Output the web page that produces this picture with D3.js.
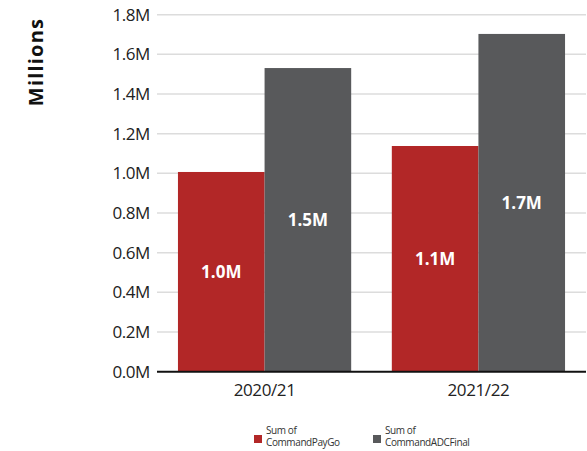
<!DOCTYPE html>
<html>
<head>
<meta charset="utf-8">
<script src="https://cdn.jsdelivr.net/npm/d3@7"></script>
<style>
  html, body { margin: 0; padding: 0; background: #fff; }
  svg { display: block; font-family: "Open Sans", "Noto Sans", sans-serif; }
</style>
</head>
<body>
<svg id="chart" width="587" height="451"></svg>
<script>
const categories = ["2020/21", "2021/22"];
const seriesNames = ["Sum of CommandPayGo", "Sum of CommandADCFinal"];
const legendLines = [["Sum of", "CommandPayGo"], ["Sum of", "CommandADCFinal"]];
const payGo = [1.007, 1.138];
const adcFinal = [1.531, 1.703];
const yTicks = [0, 0.2, 0.4, 0.6, 0.8, 1.0, 1.2, 1.4, 1.6, 1.8];
const colors = ["#B22727", "#58595B"];

const svg = d3.select("#chart");

const x0 = d3.scaleBand().domain(categories).range([157, 586]).paddingInner(0.19).paddingOuter(0.098);
const x1 = d3.scaleBand().domain([0, 1]).range([0, x0.bandwidth()]);
const y = d3.scaleLinear().domain([0, 1.8]).range([371.7, 14.7]);

// gridlines
svg.append("g")
  .selectAll("line").data(yTicks.filter(d => d > 0)).join("line")
  .attr("x1", 157).attr("x2", 586)
  .attr("y1", d => y(d)).attr("y2", d => y(d))
  .attr("stroke", "#dcdcdc").attr("stroke-width", 1.5);

// y axis labels
const yAxis = d3.axisLeft(y).tickValues(yTicks).tickSize(0).tickPadding(7)
  .tickFormat(d => d3.format(".1f")(d) + "M");
const gy = svg.append("g").attr("transform", "translate(157,0)").call(yAxis);
gy.select(".domain").remove();
gy.selectAll("text").attr("font-size", 17).attr("fill", "#222").attr("font-family", "Open Sans")
  .attr("letter-spacing", -0.4);

// bars
const data = categories.map((c, i) => ({ cat: c, vals: [payGo[i], adcFinal[i]] }));
const groups = svg.append("g").selectAll("g").data(data).join("g")
  .attr("transform", d => `translate(${x0(d.cat)},0)`);
groups.selectAll("rect").data(d => d.vals.map((v, k) => ({ v, k }))).join("rect")
  .attr("x", d => x1(d.k)).attr("width", x1.bandwidth())
  .attr("y", d => y(d.v)).attr("height", d => y(0) - y(d.v))
  .attr("fill", d => colors[d.k]);
groups.selectAll("text.lbl").data(d => d.vals.map((v, k) => ({ v, k }))).join("text")
  .attr("class", "lbl")
  .attr("x", d => x1(d.k) + x1.bandwidth() / 2)
  .attr("y", d => (y(d.v) + y(0)) / 2)
  .attr("dy", "0.35em")
  .attr("text-anchor", "middle")
  .attr("fill", "#fff").attr("font-weight", "bold").attr("font-size", 17)
  .text(d => d3.format(".1f")(d.v) + "M");

// baseline
svg.append("line").attr("x1", 157).attr("x2", 586)
  .attr("y1", y(0)).attr("y2", y(0)).attr("stroke", "#111").attr("stroke-width", 2);

// x axis labels
const xAxis = d3.axisBottom(x0).tickSize(0).tickPadding(12);
const gx = svg.append("g").attr("transform", `translate(0,${y(0)})`).call(xAxis);
gx.select(".domain").remove();
gx.selectAll("text").attr("font-size", 17).attr("fill", "#222").attr("font-family", "Open Sans")
  .attr("letter-spacing", -0.4);

// y title
svg.append("text")
  .attr("transform", "translate(43,62) rotate(-90)")
  .attr("text-anchor", "middle")
  .attr("font-weight", "bold").attr("font-size", 20).attr("fill", "#111")
  .attr("letter-spacing", 1.2)
  .text("Millions");

// legend
const legX = [254, 373];
const leg = svg.append("g").selectAll("g").data(seriesNames).join("g")
  .attr("transform", (d, i) => `translate(${legX[i]},0)`);
leg.append("rect").attr("x", 0).attr("y", 435).attr("width", 8).attr("height", 8)
  .attr("fill", (d, i) => colors[i]);
leg.append("text").attr("x", 12).attr("y", 433.5).attr("font-size", 10).attr("fill", "#333")
  .attr("letter-spacing", -0.4)
  .text((d, i) => legendLines[i][0]);
leg.append("text").attr("x", 12).attr("y", 446).attr("font-size", 10).attr("fill", "#333")
  .attr("letter-spacing", -0.4)
  .text((d, i) => legendLines[i][1]);
</script>
</body>
</html>
